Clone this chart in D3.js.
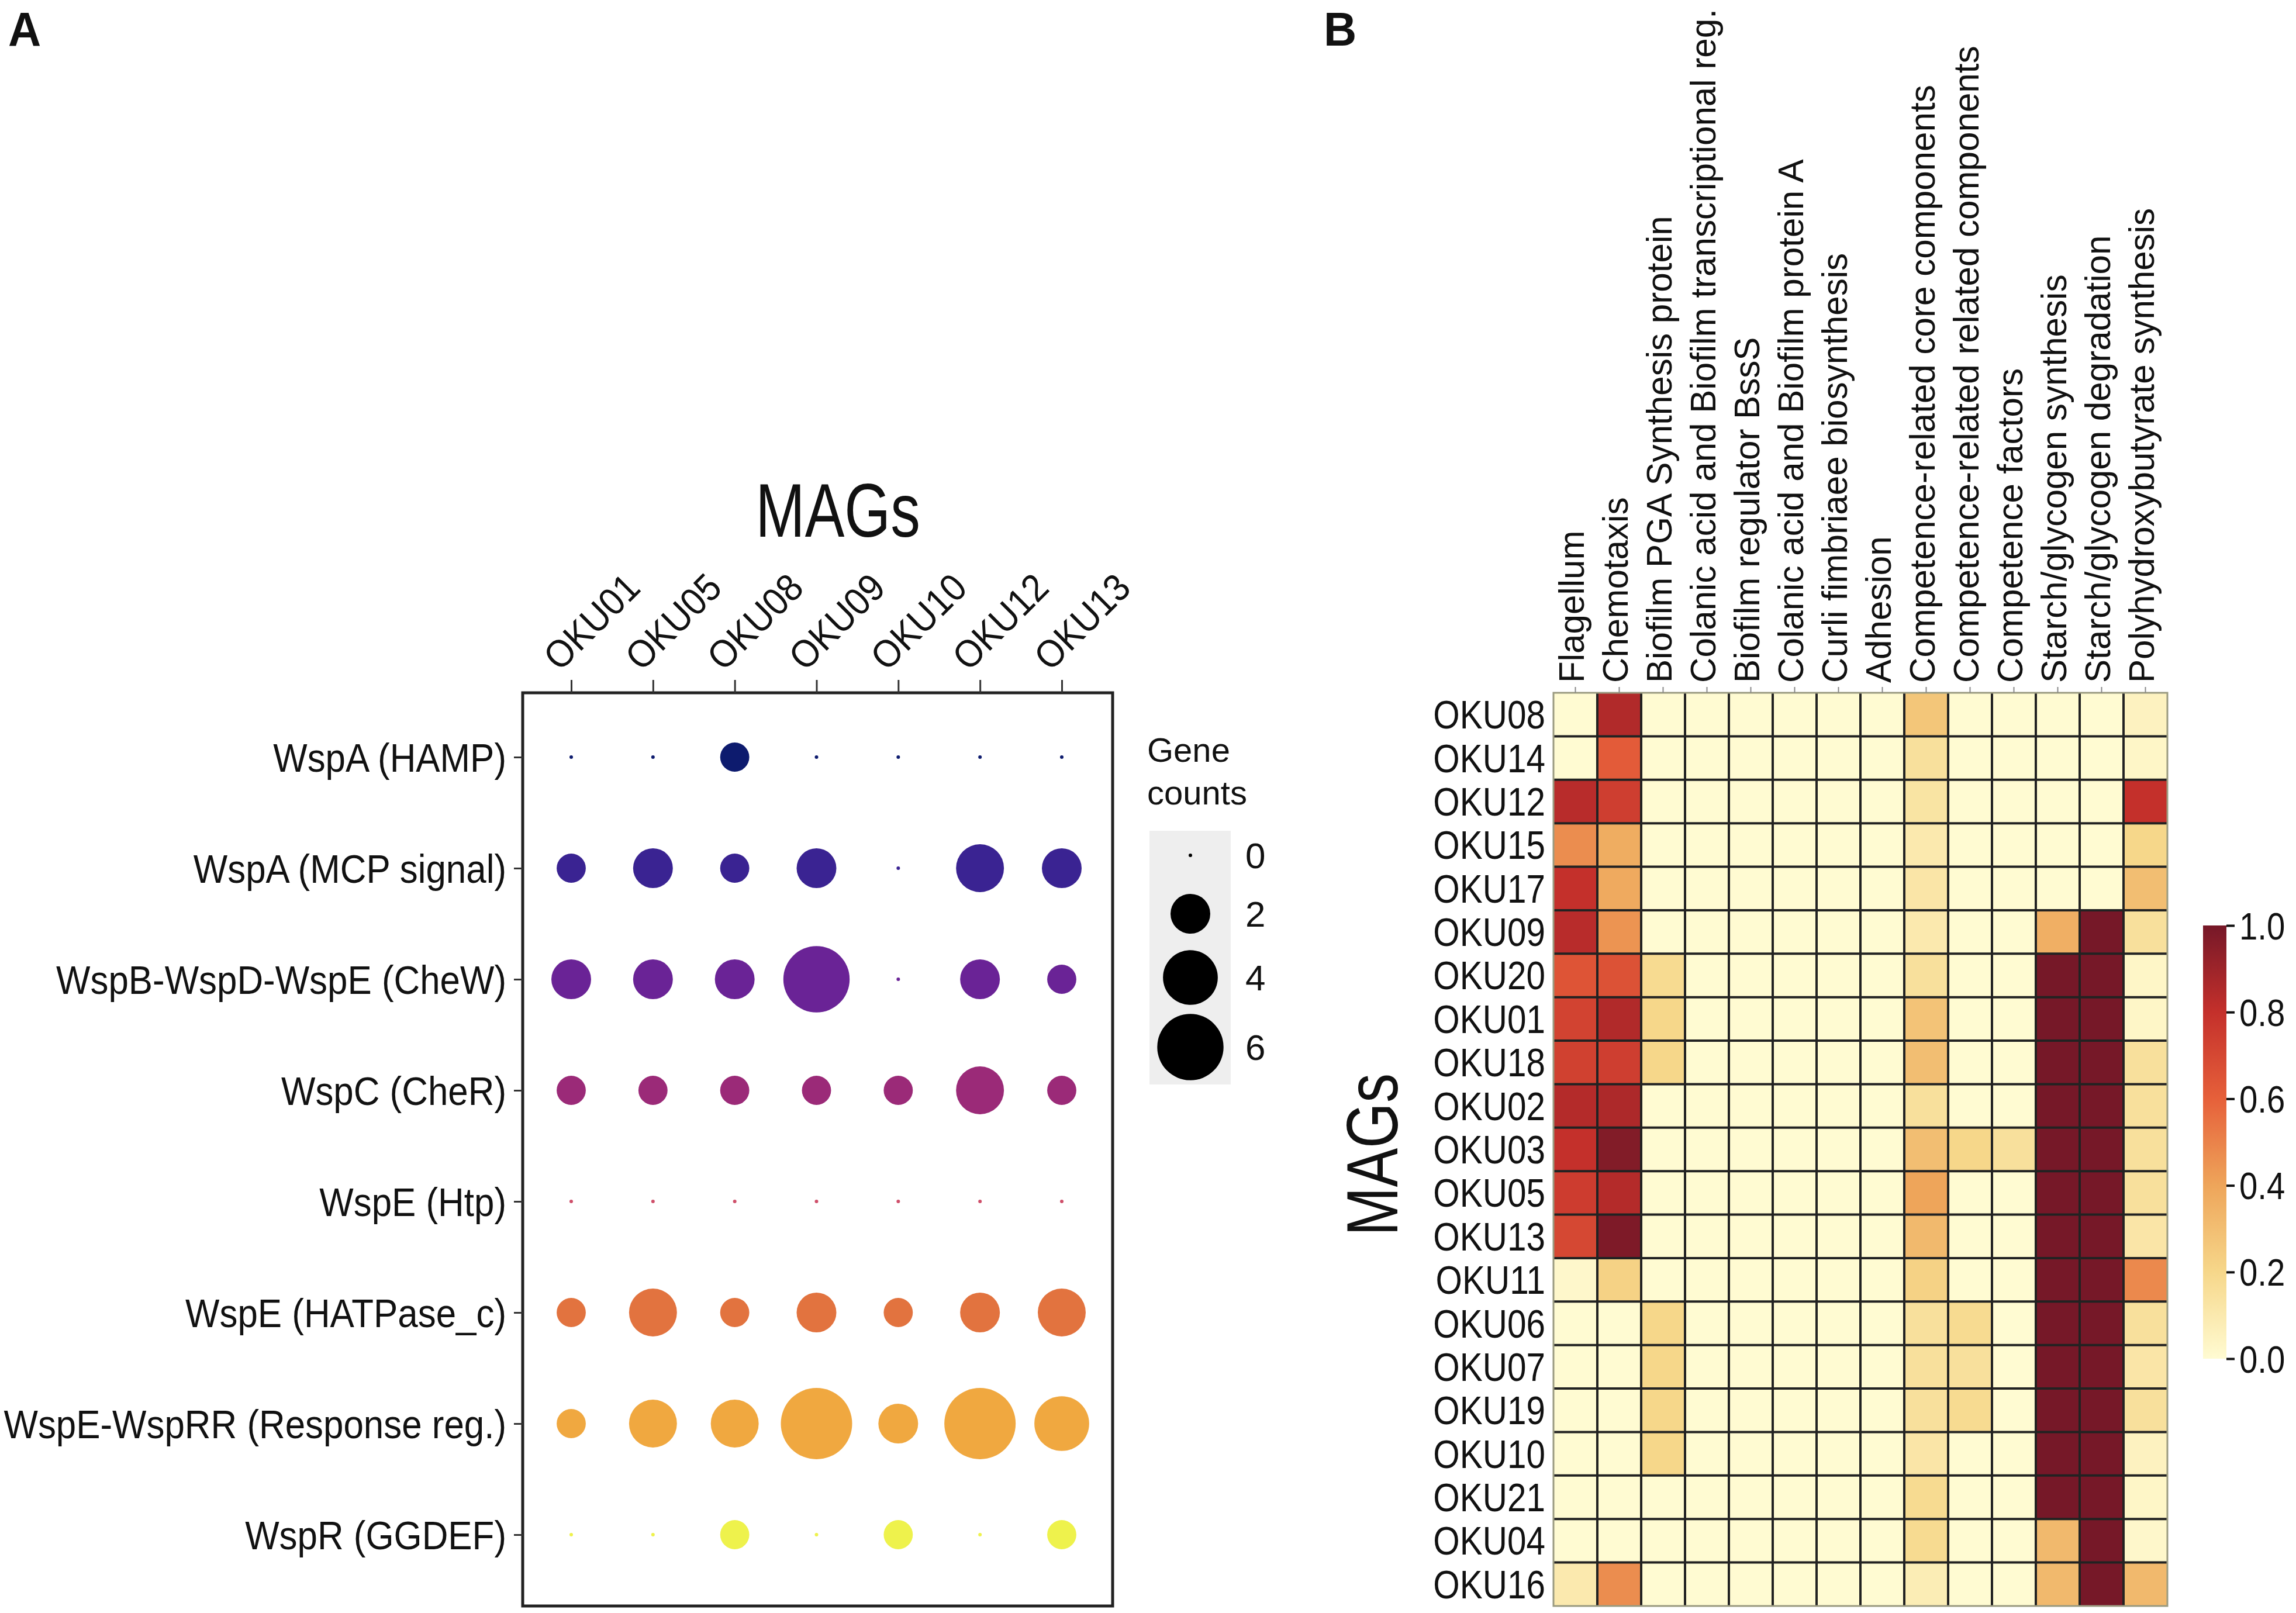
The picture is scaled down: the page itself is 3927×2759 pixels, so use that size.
<!DOCTYPE html>
<html>
<head>
<meta charset="utf-8">
<script src="https://cdn.jsdelivr.net/npm/d3@7"></script>
<style>
body { margin: 0; background: #fff; }
text { font-family: "Liberation Sans", Arial, Helvetica, sans-serif; fill: #111; }
</style>
</head>
<body>
<svg id="fig" width="3927" height="2759"></svg>
<script>
// panel A: Wsp gene counts per MAG
var genes = ["WspA (HAMP)", "WspA (MCP signal)", "WspB-WspD-WspE (CheW)", "WspC (CheR)",
	"WspE (Htp)", "WspE (HATPase_c)", "WspE-WspRR (Response reg.)", "WspR (GGDEF)"]
var magsA = ["OKU01", "OKU05", "OKU08", "OKU09", "OKU10", "OKU12", "OKU13"]
var geneCounts = [
	[0, 0, 1, 0, 0, 0, 0],
	[1, 2, 1, 2, 0, 3, 2],
	[2, 2, 2, 6, 0, 2, 1],
	[1, 1, 1, 1, 1, 3, 1],
	[0, 0, 0, 0, 0, 0, 0],
	[1, 3, 1, 2, 1, 2, 3],
	[1, 3, 3, 7, 2, 7, 4],
	[0, 0, 1, 0, 1, 0, 1]
]
var geneColors = ["#0d1b6e", "#3a2392", "#6a2396", "#9b2a78", "#cf4f6a", "#e2733f", "#f0a840", "#eef24c"]
var sizeBreaks = [0, 2, 4, 6]

// panel B: relative completeness of functions per MAG
var features = ["Flagellum", "Chemotaxis", "Biofilm PGA Synthesis protein",
	"Colanic acid and Biofilm transcriptional reg.", "Biofilm regulator BssS",
	"Colanic acid and Biofilm protein A", "Curli fimbriaee biosynthesis", "Adhesion",
	"Competence-related core components", "Competence-related related components",
	"Competence factors", "Starch/glycogen synthesis", "Starch/glycogen degradation",
	"Polyhydroxybutyrate synthesis"]
var magsB = ["OKU08", "OKU14", "OKU12", "OKU15", "OKU17", "OKU09", "OKU20", "OKU01", "OKU18",
	"OKU02", "OKU03", "OKU05", "OKU13", "OKU11", "OKU06", "OKU07", "OKU19", "OKU10", "OKU21",
	"OKU04", "OKU16"]
var heatValues = [
	[0, 0.85, 0, 0, 0, 0, 0, 0, 0.27, 0, 0, 0, 0, 0.05],
	[0, 0.62, 0, 0, 0, 0, 0, 0, 0.15, 0, 0, 0, 0, 0.03],
	[0.83, 0.74, 0, 0, 0, 0, 0, 0, 0.13, 0, 0, 0, 0, 0.8],
	[0.47, 0.37, 0, 0, 0, 0, 0, 0, 0.1, 0, 0, 0, 0, 0.2],
	[0.8, 0.38, 0, 0, 0, 0, 0, 0, 0.12, 0, 0, 0, 0, 0.3],
	[0.83, 0.45, 0, 0, 0, 0, 0, 0, 0.1, 0, 0, 0.36, 1, 0.15],
	[0.65, 0.66, 0.18, 0, 0, 0, 0, 0, 0.15, 0, 0, 1, 1, 0.03],
	[0.72, 0.85, 0.2, 0, 0, 0, 0, 0, 0.28, 0, 0, 1, 1, 0.03],
	[0.73, 0.74, 0.2, 0, 0, 0, 0, 0, 0.3, 0, 0, 1, 1, 0.15],
	[0.84, 0.86, 0, 0, 0, 0, 0, 0, 0.15, 0, 0, 1, 1, 0.15],
	[0.8, 0.97, 0, 0, 0, 0, 0, 0, 0.3, 0.2, 0.15, 1, 1, 0.15],
	[0.75, 0.84, 0, 0, 0, 0, 0, 0, 0.4, 0, 0, 1, 1, 0.15],
	[0.7, 0.98, 0, 0, 0, 0, 0, 0, 0.32, 0, 0, 1, 1, 0.12],
	[0.02, 0.22, 0, 0, 0, 0, 0, 0, 0.22, 0, 0, 1, 1, 0.48],
	[0, 0, 0.2, 0, 0, 0, 0, 0, 0.15, 0.18, 0, 1, 1, 0.15],
	[0, 0, 0.2, 0, 0, 0, 0, 0, 0.15, 0.15, 0, 1, 1, 0.12],
	[0, 0, 0.2, 0, 0, 0, 0, 0, 0.15, 0.18, 0, 1, 1, 0.15],
	[0, 0, 0.2, 0, 0, 0, 0, 0, 0.12, 0, 0, 1, 1, 0.05],
	[0, 0, 0, 0, 0, 0, 0, 0, 0.18, 0, 0, 1, 1, 0.03],
	[0, 0, 0, 0, 0, 0, 0, 0, 0.18, 0, 0, 0.32, 1, 0.02],
	[0.1, 0.47, 0, 0, 0, 0, 0, 0, 0.08, 0, 0, 0.32, 1, 0.32]
]
var heatStops = [0, 0.2, 0.4, 0.6, 0.8, 1]
var heatColors = ["#fffbd2", "#f6d78a", "#eea55a", "#e6603a", "#c4302b", "#761828"]
var cbTicks = [0, 0.2, 0.4, 0.6, 0.8, 1]

var svg = d3.select("#fig")
svg.append("rect").attr("width", 3927).attr("height", 2759).attr("fill", "#fff")

// text helper: narrow font look via horizontal scale in text direction
function label(g, x, y, s, size, opt) {
	opt = opt || {}
	return g.append("text")
		.attr("transform", "translate(" + x + "," + y + ") rotate(" + (opt.rot || 0) + ") scale(" + (opt.sx || 1) + ",1)")
		.attr("font-size", size)
		.attr("font-weight", opt.bold ? "bold" : null)
		.attr("text-anchor", opt.anchor || "start")
		.text(s)
}

function restyleTicks(g, size, tf, anchor) {
	g.select(".domain").remove()
	g.selectAll(".tick line").attr("stroke", "#333").attr("stroke-width", 3)
	g.selectAll(".tick text")
		.attr("x", null).attr("y", null).attr("dy", null)
		.attr("font-size", size)
		.attr("fill", "#111")
		.attr("text-anchor", anchor)
		.attr("transform", tf)
}

// ---------- panel A ----------
var boxA = {left: 894, right: 1903, top: 1185, bottom: 2747}
var xA = d3.scalePoint().domain(magsA).range([977, 1816])
var yA = d3.scalePoint().domain(genes).range([1295, 2625])
var rA = d3.scaleSqrt().domain([0, 7]).range([3, 61])

label(svg, 14, 78, "A", 82, {bold: true, sx: 0.95})
label(svg, 1433, 918, "MAGs", 130, {anchor: "middle", sx: 0.78})

var gA = svg.append("g")
var dots = []
genes.forEach(function(g, i) {
	magsA.forEach(function(m, j) {
		dots.push({gene: g, mag: m, n: geneCounts[i][j], col: geneColors[i]})
	})
})
gA.selectAll("circle.dot").data(dots).enter().append("circle")
	.attr("class", "dot")
	.attr("cx", function(d) { return xA(d.mag) })
	.attr("cy", function(d) { return yA(d.gene) })
	.attr("r", function(d) { return rA(d.n) })
	.attr("fill", function(d) { return d.col })

gA.append("rect")
	.attr("x", boxA.left).attr("y", boxA.top)
	.attr("width", boxA.right - boxA.left).attr("height", boxA.bottom - boxA.top)
	.attr("fill", "none").attr("stroke", "#222").attr("stroke-width", 5)

var axTopA = gA.append("g").attr("transform", "translate(0," + boxA.top + ")")
	.call(d3.axisTop(xA).tickSize(22))
restyleTicks(axTopA, 66, "translate(-20,-35) rotate(-45) scale(0.92,1)", "start")

var axLeftA = gA.append("g").attr("transform", "translate(" + boxA.left + ",0)")
	.call(d3.axisLeft(yA).tickSize(15))
restyleTicks(axLeftA, 68, "translate(-28,24) scale(0.91,1)", "end")

// size legend
var leg = svg.append("g")
label(leg, 1962, 1303, "Gene", 58)
label(leg, 1962, 1376, "counts", 58)
leg.append("rect").attr("x", 1966).attr("y", 1421).attr("width", 139).attr("height", 434).attr("fill", "#eeeeee")
var legY = d3.scaleOrdinal().domain(sizeBreaks).range([1463, 1563, 1672, 1791])
leg.selectAll("circle").data(sizeBreaks).enter().append("circle")
	.attr("cx", 2036).attr("cy", function(d) { return legY(d) })
	.attr("r", function(d) { return rA(d) })
	.attr("fill", "#000")
leg.selectAll("text.lab").data(sizeBreaks).enter().append("text")
	.attr("class", "lab")
	.attr("x", 2130).attr("y", function(d) { return legY(d) + 22 })
	.attr("font-size", 62)
	.text(function(d) { return d })

// ---------- panel B ----------
var xB = d3.scaleBand().domain(features).range([2657, 3707])
var yB = d3.scaleBand().domain(magsB).range([1185, 2747])
var heat = d3.scaleLinear().domain(heatStops).range(heatColors)

label(svg, 2264, 78, "B", 82, {bold: true, sx: 0.95})

var gB = svg.append("g")
var cells = []
magsB.forEach(function(m, i) {
	features.forEach(function(f, j) {
		cells.push({mag: m, feat: f, v: heatValues[i][j]})
	})
})
gB.selectAll("rect.cell").data(cells).enter().append("rect")
	.attr("class", "cell")
	.attr("x", function(d) { return xB(d.feat) })
	.attr("y", function(d) { return yB(d.mag) })
	.attr("width", xB.bandwidth()).attr("height", yB.bandwidth())
	.attr("fill", function(d) { return heat(d.v) })

// inner grid lines
gB.selectAll("line.vg").data(features.slice(1)).enter().append("line")
	.attr("class", "vg")
	.attr("x1", function(d) { return xB(d) }).attr("x2", function(d) { return xB(d) })
	.attr("y1", 1185).attr("y2", 2747)
	.attr("stroke", "#222").attr("stroke-width", 4)
gB.selectAll("line.hg").data(magsB.slice(1)).enter().append("line")
	.attr("class", "hg")
	.attr("y1", function(d) { return yB(d) }).attr("y2", function(d) { return yB(d) })
	.attr("x1", 2657).attr("x2", 3707)
	.attr("stroke", "#222").attr("stroke-width", 4)
gB.append("rect")
	.attr("x", 2657).attr("y", 1185).attr("width", 1050).attr("height", 1562)
	.attr("fill", "none").attr("stroke", "#9a9a80").attr("stroke-width", 3)

var axTopB = gB.append("g").attr("transform", "translate(0,1185)")
	.call(d3.axisTop(xB).tickSize(10))
restyleTicks(axTopB, 62, "translate(14,-17) rotate(-90) scale(0.97,1)", "start")
axTopB.selectAll(".tick line").attr("stroke", "#888").attr("stroke-width", 2)

var axLeftB = gB.append("g").attr("transform", "translate(2657,0)")
	.call(d3.axisLeft(yB).tickSize(0))
restyleTicks(axLeftB, 68, "translate(-14,24) scale(0.86,1)", "end")

label(svg, 2390, 1975, "MAGs", 125, {rot: -90, anchor: "middle", sx: 0.8})

// colour bar
var cb = d3.scaleLinear().domain([0, 1]).range([2324, 1583])
var grad = svg.append("defs").append("linearGradient")
	.attr("id", "cbgrad").attr("x1", 0).attr("y1", 1).attr("x2", 0).attr("y2", 0)
grad.selectAll("stop").data(heatStops).enter().append("stop")
	.attr("offset", function(d) { return d })
	.attr("stop-color", function(d) { return heat(d) })
svg.append("rect")
	.attr("x", 3768).attr("y", cb(1)).attr("width", 40).attr("height", cb(0) - cb(1))
	.attr("fill", "url(#cbgrad)")
var axCb = svg.append("g").attr("transform", "translate(3808,0)")
	.call(d3.axisRight(cb).tickValues(cbTicks).tickFormat(d3.format(".1f")).tickSize(14))
restyleTicks(axCb, 64, null, "start")
axCb.selectAll(".tick text").attr("transform", "translate(22,23) scale(0.88,1)")
axCb.selectAll(".tick line").attr("stroke", "#111").attr("stroke-width", 4)
</script>
</body>
</html>
